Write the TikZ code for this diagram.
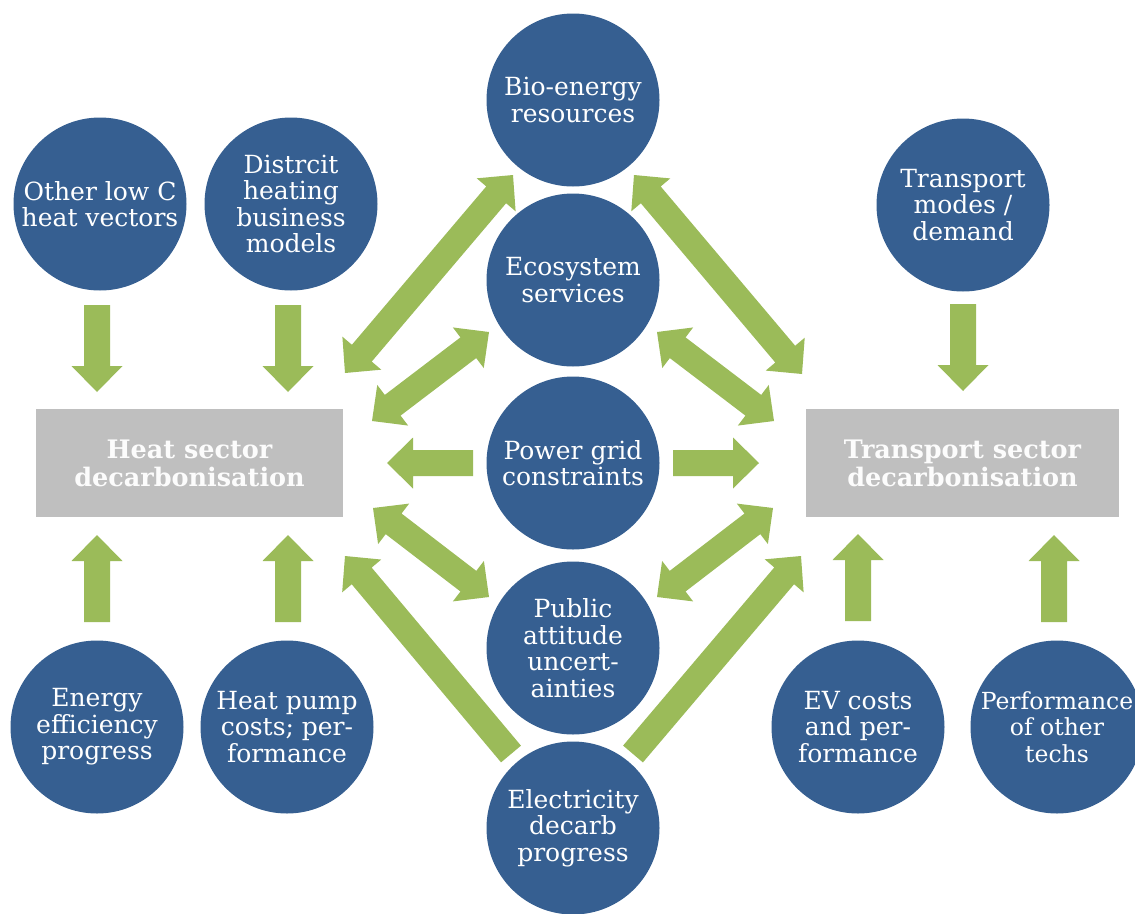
\documentclass[tikz,border=0pt]{standalone}
\usepackage{fontspec}
\setmainfont{DejaVu Serif}
\usetikzlibrary{calc}
\definecolor{cblue}{HTML}{365F91}
\definecolor{agreen}{HTML}{9BBB59}
\definecolor{bgray}{HTML}{BFBFBF}
\newcommand\dblarrow[2]{%
  \path (#1) coordinate (tA) (#2) coordinate (tB)
    ($(tA)!26pt!(tB)$) coordinate (hA)
    ($(tB)!26pt!(tA)$) coordinate (hB);
  \fill[arrowfill] (tA) -- ($(hA)!25.5pt!90:(tB)$) -- ($(hA)!13pt!90:(tB)$)
    -- ($(hB)!13pt!-90:(tA)$) -- ($(hB)!25.5pt!-90:(tA)$) -- (tB)
    -- ($(hB)!25.5pt!90:(tA)$) -- ($(hB)!13pt!90:(tA)$)
    -- ($(hA)!13pt!-90:(tB)$) -- ($(hA)!25.5pt!-90:(tB)$) -- cycle;}
\newcommand\sglarrow[2]{%
  \path (#1) coordinate (tT) (#2) coordinate (tB)
    ($(tB)!26pt!(tT)$) coordinate (hB);
  \fill[arrowfill] ($(tT)!13pt!90:(tB)$) -- ($(hB)!13pt!90:(tB)$)
    -- ($(hB)!25.5pt!90:(tB)$) -- (tB) -- ($(hB)!25.5pt!-90:(tB)$)
    -- ($(hB)!13pt!-90:(tB)$) -- ($(tT)!13pt!-90:(tB)$) -- cycle;}
\begin{document}
\begin{tikzpicture}[x=1pt,y=-1pt,
  circ/.style={circle, fill=cblue, minimum size=173pt, inner sep=0pt,
    text=white, align=center, font=\fontsize{25}{26.5}\selectfont},
  sector/.style={rectangle, fill=bgray, minimum height=108pt, inner sep=0pt,
    text=white!96!bgray, align=center, font=\bfseries\fontsize{25.5}{28}\selectfont},
  arrowfill/.style={fill=agreen}]
\useasboundingbox (0,0) rectangle (1135,913);

% sector boxes
\node[sector, minimum width=307pt] (heat) at (189.5,463) {Heat sector\\decarbonisation};
\node[sector, minimum width=313pt] (trans) at (962.5,463) {Transport sector\\decarbonisation};

% arrow end coordinates
\coordinate (a1a) at (345,373);  \coordinate (a1b) at (513,175);
\coordinate (a2a) at (372,421);  \coordinate (a2b) at (489,332);
\coordinate (a3a) at (373,508);  \coordinate (a3b) at (489,597);
\coordinate (a4t) at (511,754);  \coordinate (a4h) at (345,556);
\coordinate (a5t) at (633,754);  \coordinate (a5h) at (801,556);
\coordinate (a6a) at (773,508);  \coordinate (a6b) at (657,597);
\coordinate (a7a) at (774,421);  \coordinate (a7b) at (657,332);
\coordinate (a8a) at (802,374);  \coordinate (a8b) at (634,175);
\coordinate (hlt) at (473,463);  \coordinate (hlh) at (387,463);
\coordinate (hrt) at (673,463);  \coordinate (hrh) at (759,463);
\coordinate (d1t) at (97,305);   \coordinate (d1h) at (97,392);
\coordinate (d2t) at (288,305);  \coordinate (d2h) at (288,392);
\coordinate (d3t) at (963,304);  \coordinate (d3h) at (963,391);
\coordinate (u1t) at (97,622);   \coordinate (u1h) at (97,535);
\coordinate (u2t) at (288,622);  \coordinate (u2h) at (288,535);
\coordinate (u3t) at (858,621);  \coordinate (u3h) at (858,534);
\coordinate (u4t) at (1054,622); \coordinate (u4h) at (1054,535);

% arrows
\dblarrow{a1a}{a1b}
\dblarrow{a2a}{a2b}
\dblarrow{a3a}{a3b}
\sglarrow{a4t}{a4h}
\sglarrow{a5t}{a5h}
\dblarrow{a6a}{a6b}
\dblarrow{a7a}{a7b}
\dblarrow{a8a}{a8b}
\sglarrow{hlt}{hlh}
\sglarrow{hrt}{hrh}
\sglarrow{d1t}{d1h}
\sglarrow{d2t}{d2h}
\sglarrow{d3t}{d3h}
\sglarrow{u1t}{u1h}
\sglarrow{u2t}{u2h}
\sglarrow{u3t}{u3h}
\sglarrow{u4t}{u4h}

% circles
\node[circ] (bio) at (573,100) {Bio-energy\\resources};
\node[circ] (eco) at (573,280) {Ecosystem\\services};
\node[circ] (grid) at (573,463) {Power grid\\constraints};
\node[circ] (pub) at (573,648) {Public\\attitude\\uncert-\\ainties};
\node[circ] (elec) at (573,828) {Electricity\\decarb\\progress};
\node[circ] (olc) at (100,204) {Other low C\\heat vectors};
\node[circ] (dh) at (291,204) {Distrcit\\heating\\business\\models};
\node[circ] (tm) at (963,205) {Transport\\modes /\\demand};
\node[circ] (ee) at (97,727) {Energy\\efficiency\\progress};
\node[circ] (hp) at (287,727) {Heat pump\\costs; per-\\formance};
\node[circ] (ev) at (858,727) {EV costs\\and per-\\formance};
\node[circ, font=\fontsize{23.5}{26.5}\selectfont] (perf) at (1057,727) {Performance\\of other\\techs};
\end{tikzpicture}
\end{document}
